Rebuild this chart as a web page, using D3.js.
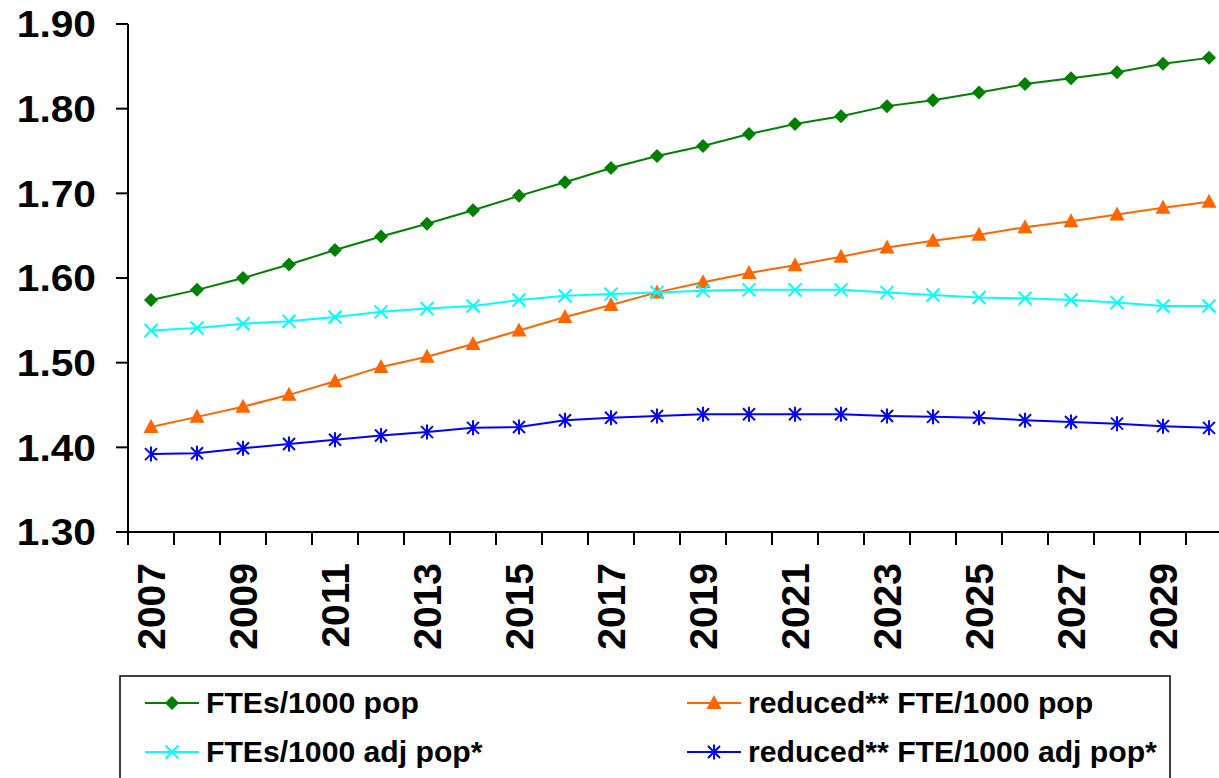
<!DOCTYPE html>
<html>
<head>
<meta charset="utf-8">
<script src="https://cdn.jsdelivr.net/npm/d3@7"></script>
<style>
  body { margin: 0; background: #fff; }
  svg { display: block; font-family: "Liberation Sans", Arial, sans-serif; }
</style>
</head>
<body>
<svg id="chart" width="1219" height="778"></svg>
<script>
// years on the x axis
var years = d3.range(2007, 2031)
var yTicks = [1.30, 1.40, 1.50, 1.60, 1.70, 1.80, 1.90]

// series values
var ftesPop = [1.574, 1.586, 1.600, 1.616, 1.633, 1.649, 1.664, 1.680, 1.697, 1.713, 1.730, 1.744,
  1.756, 1.770, 1.782, 1.791, 1.803, 1.810, 1.819, 1.829, 1.836, 1.843, 1.853, 1.860]
var reducedPop = [1.424, 1.436, 1.448, 1.462, 1.478, 1.495, 1.507, 1.522, 1.538, 1.554, 1.568, 1.583,
  1.595, 1.606, 1.615, 1.625, 1.636, 1.644, 1.651, 1.660, 1.667, 1.675, 1.683, 1.690]
var ftesAdj = [1.538, 1.541, 1.546, 1.549, 1.554, 1.560, 1.564, 1.567, 1.574, 1.579, 1.581, 1.583,
  1.585, 1.586, 1.586, 1.586, 1.583, 1.580, 1.577, 1.576, 1.574, 1.571, 1.567, 1.567]
var reducedAdj = [1.392, 1.393, 1.399, 1.404, 1.409, 1.414, 1.418, 1.423, 1.424, 1.432, 1.435, 1.437,
  1.439, 1.439, 1.439, 1.439, 1.437, 1.436, 1.435, 1.432, 1.430, 1.428, 1.425, 1.423]

var seriesNames = ['FTEs/1000 pop', 'reduced** FTE/1000 pop', 'FTEs/1000 adj pop*', 'reduced** FTE/1000 adj pop*']

var series = [
  {name: seriesNames[0], values: ftesPop, color: '#008000', marker: 'diamond'},
  {name: seriesNames[1], values: reducedPop, color: '#FF6600', marker: 'triangle'},
  {name: seriesNames[2], values: ftesAdj, color: '#00FFFF', marker: 'cross'},
  {name: seriesNames[3], values: reducedAdj, color: '#0000FF', marker: 'star'}
]

var svg = d3.select('#chart')
var plotLeft = 128, plotRight = 1232, plotTop = 24, plotBottom = 532

var x = d3.scaleBand().domain(years).range([plotLeft, plotRight]).padding(0)
var y = d3.scaleLinear().domain([1.3, 1.9]).range([plotBottom, plotTop])
var cx = function (yr) { return x(yr) + x.bandwidth() / 2 }

// marker drawing
function drawMarker (g, type, color, px, py) {
  var s = 7
  if (type === 'diamond') {
    g.append('path').attr('d', 'M' + px + ',' + (py - s) + 'L' + (px + s) + ',' + py + 'L' + px + ',' + (py + s) + 'L' + (px - s) + ',' + py + 'Z')
      .attr('fill', color)
  } else if (type === 'triangle') {
    g.append('path').attr('d', 'M' + px + ',' + (py - 8) + 'L' + (px + 7.5) + ',' + (py + 6) + 'L' + (px - 7.5) + ',' + (py + 6) + 'Z')
      .attr('fill', color)
  } else if (type === 'cross') {
    g.append('path').attr('d', 'M' + (px - 6.5) + ',' + (py - 6.5) + 'L' + (px + 6.5) + ',' + (py + 6.5) + 'M' + (px + 6.5) + ',' + (py - 6.5) + 'L' + (px - 6.5) + ',' + (py + 6.5))
      .attr('stroke', color).attr('stroke-width', 2)
  } else {
    g.append('path').attr('d', 'M' + (px - 6) + ',' + (py - 6) + 'L' + (px + 6) + ',' + (py + 6) + 'M' + (px + 6) + ',' + (py - 6) + 'L' + (px - 6) + ',' + (py + 6) +
      'M' + px + ',' + (py - 7.5) + 'L' + px + ',' + (py + 7.5))
      .attr('stroke', color).attr('stroke-width', 2)
  }
}

// y axis
var yAxis = svg.append('g')
yAxis.append('line').attr('x1', plotLeft).attr('x2', plotLeft).attr('y1', plotTop).attr('y2', plotBottom)
  .attr('stroke', '#000').attr('stroke-width', 2)
yTicks.forEach(function (t) {
  yAxis.append('line').attr('x1', plotLeft - 12).attr('x2', plotLeft).attr('y1', y(t)).attr('y2', y(t))
    .attr('stroke', '#000').attr('stroke-width', 2)
  yAxis.append('g').attr('transform', 'translate(96,' + y(t) + ') scale(1.1,1)')
    .append('text').attr('text-anchor', 'end').attr('dy', '0.36em')
    .attr('font-size', 37).attr('font-weight', 'bold').text(d3.format('.2f')(t))
})

// x axis
var xAxis = svg.append('g')
xAxis.append('line').attr('x1', plotLeft).attr('x2', plotRight).attr('y1', plotBottom).attr('y2', plotBottom)
  .attr('stroke', '#000').attr('stroke-width', 2)
years.concat([2031]).forEach(function (yr) {
  var xx = yr === 2031 ? plotRight : x(yr)
  xAxis.append('line').attr('x1', xx).attr('x2', xx).attr('y1', plotBottom).attr('y2', plotBottom + 13)
    .attr('stroke', '#000').attr('stroke-width', 2)
})
years.filter(function (yr) { return yr % 2 === 1 }).forEach(function (yr) {
  xAxis.append('text')
    .attr('transform', 'translate(' + cx(yr) + ',563) rotate(-90)')
    .attr('text-anchor', 'end').attr('dy', '0.36em')
    .attr('font-size', 39).attr('font-weight', 'bold').text(yr)
})

// lines and markers
var line = d3.line().x(function (d, i) { return cx(years[i]) }).y(function (d) { return y(d) })
series.forEach(function (s) {
  var g = svg.append('g')
  g.append('path').datum(s.values).attr('d', line).attr('fill', 'none')
    .attr('stroke', s.color).attr('stroke-width', 2)
  s.values.forEach(function (v, i) { drawMarker(g, s.marker, s.color, cx(years[i]), y(v)) })
})

// legend
var legend = svg.append('g')
legend.append('rect').attr('x', 120).attr('y', 676).attr('width', 1050).attr('height', 120)
  .attr('fill', 'none').attr('stroke', '#000').attr('stroke-width', 1.5)
var legendPos = [[145, 703], [687, 703], [145, 752], [687, 752]]
series.forEach(function (s, i) {
  var lx = legendPos[i][0], ly = legendPos[i][1]
  var g = legend.append('g')
  g.append('line').attr('x1', lx).attr('x2', lx + 54).attr('y1', ly).attr('y2', ly)
    .attr('stroke', s.color).attr('stroke-width', 2)
  drawMarker(g, s.marker, s.color, lx + 27, ly)
  g.append('g').attr('transform', 'translate(' + (lx + 61) + ',' + ly + ') scale(1.04,1)')
    .append('text').attr('dy', '0.36em').attr('font-size', 29).attr('font-weight', 'bold').text(s.name)
})
</script>
</body>
</html>
